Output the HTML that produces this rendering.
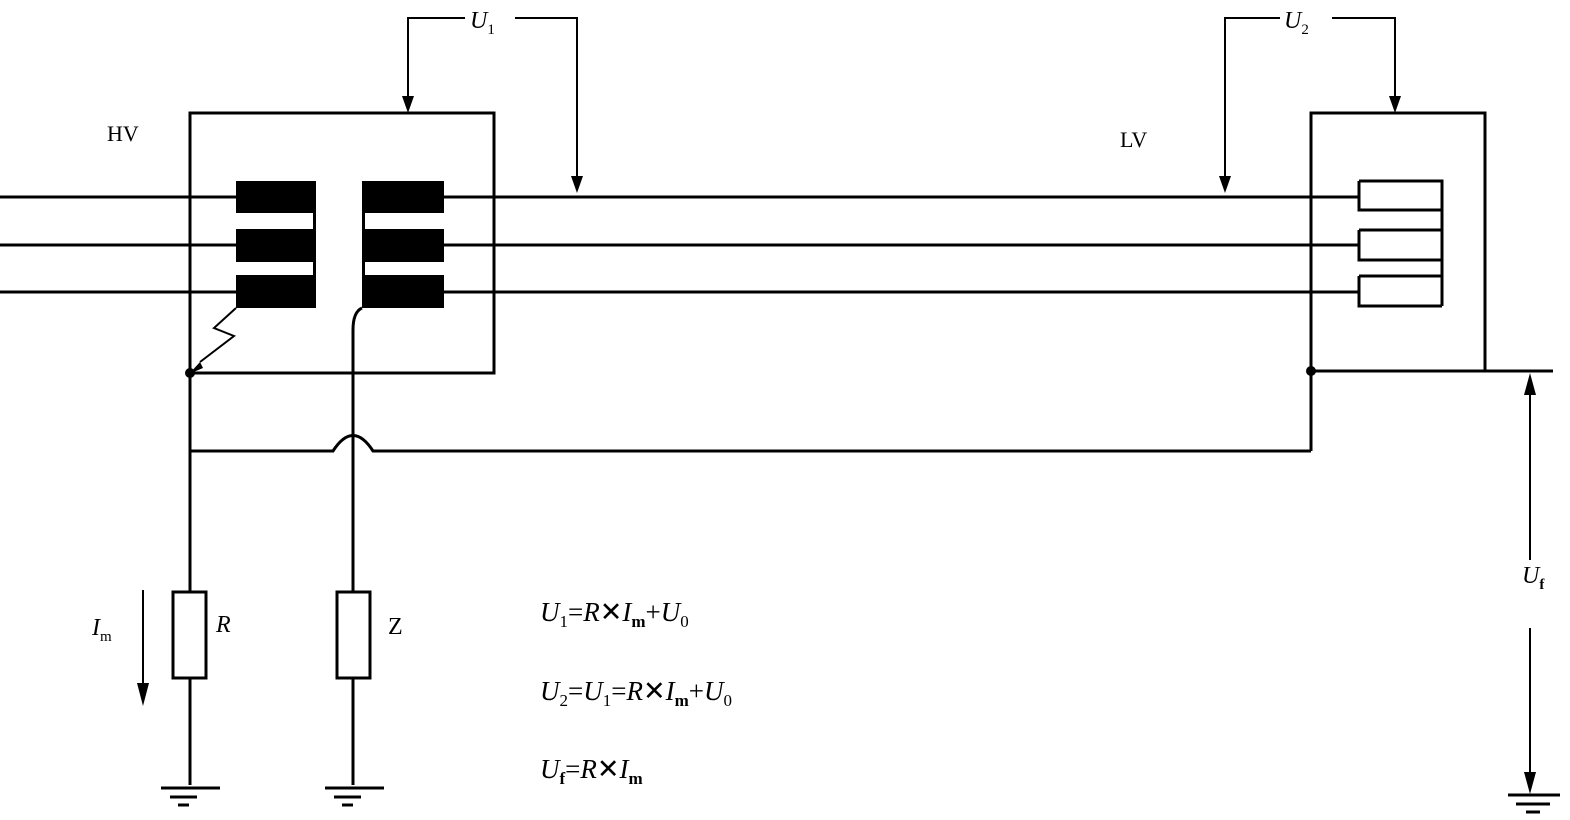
<!DOCTYPE html>
<html><head><style>body{margin:0;background:#fff}svg{display:block}text{font-family:"Liberation Serif",serif;fill:#000}</style></head><body>
<svg width="1570" height="820" viewBox="0 0 1570 820" xmlns="http://www.w3.org/2000/svg">
<g stroke="#000" stroke-width="3" fill="none">
<rect x="190" y="113" width="304" height="260"/>
<path d="M1311 451 V113 H1485 V371"/>
<path d="M1311 371 H1553"/>
<path d="M0 197 H236 M0 245 H236 M0 292 H236"/>
<path d="M444 197 H1359 M444 245 H1359 M444 292 H1359"/>
<path d="M1359 181 H1442 V306 M1359 181 V210 H1442 M1359 230 H1442 M1359 230 V260 H1442 M1359 276 H1442 M1359 276 V306 H1442"/>
<path d="M190 373 V785 M190 451 H333 Q353 420 373 451 H1311"/>
<path d="M362 308 Q353 312 353 330 V785"/>
<path d="M236 308 L214 328 L234 336 L200 362" stroke-width="2"/>
<rect x="173" y="592" width="33" height="86" fill="#fff"/>
<rect x="337" y="592" width="33" height="86" fill="#fff"/>
<path d="M161 788 H220 M170 797 H197 M178 805 H189"/>
<path d="M325 788 H384 M334 797 H361 M342 805 H353"/>
<path d="M1508 795 H1560 M1516 804 H1550 M1526 812 H1540"/>
<path d="M465 18 H408 V98 M515 18 H577 V178" stroke-width="2"/>
<path d="M1280 18 H1225 V178 M1332 18 H1395 V98" stroke-width="2"/>
<path d="M143 590 V690" stroke-width="2"/>
<path d="M1530 390 V560 M1530 628 V780" stroke-width="2"/>
</g>
<g fill="#000">
<rect x="236" y="181" width="80" height="32"/><rect x="236" y="229" width="80" height="33"/><rect x="236" y="275" width="80" height="33"/>
<rect x="362" y="181" width="82" height="32"/><rect x="362" y="229" width="82" height="33"/><rect x="362" y="275" width="82" height="33"/>
<rect x="313" y="205" width="3" height="30"/><rect x="313" y="255" width="3" height="25"/>
<rect x="362" y="205" width="3" height="30"/><rect x="362" y="255" width="3" height="25"/>
<circle cx="190" cy="373" r="5"/><circle cx="1311" cy="371" r="5"/>
<path d="M402 96 L414 96 L408 113 Z"/><path d="M571 176 L583 176 L577 193 Z"/>
<path d="M1219 176 L1231 176 L1225 193 Z"/><path d="M1389 96 L1401 96 L1395 113 Z"/>
<path d="M137 683 L149 683 L143 706 Z"/>
<path d="M1524 395 L1536 395 L1530 373 Z"/><path d="M1524 772 L1536 772 L1530 794 Z"/>
<path d="M189 374 L200 362 L203 368 Z"/>
</g>
<text x="107" y="141" font-size="22">HV</text>
<text x="1120" y="147" font-size="22">LV</text>
<text x="470" y="28" font-size="24" font-style="italic">U<tspan font-size="15" dy="6" font-style="normal">1</tspan></text>
<text x="1284" y="28" font-size="24" font-style="italic">U<tspan font-size="15" dy="6" font-style="normal">2</tspan></text>
<text x="1522" y="583" font-size="24" font-style="italic">U<tspan font-size="15" dy="6" font-style="normal" font-weight="bold">f</tspan></text>
<text x="92" y="635" font-size="24" font-style="italic">I<tspan font-size="15" dy="6" font-style="normal">m</tspan></text>
<text x="216" y="632" font-size="24" font-style="italic">R</text>
<text x="388" y="634" font-size="24">Z</text>
<text x="540" y="621" font-size="27"><tspan font-style="italic">U</tspan><tspan font-size="17" dy="6">1</tspan><tspan dy="-6">=</tspan><tspan font-style="italic">R</tspan>✕<tspan font-style="italic">I</tspan><tspan font-size="17" dy="6" font-weight="bold">m</tspan><tspan dy="-6">+</tspan><tspan font-style="italic">U</tspan><tspan font-size="17" dy="6">0</tspan></text>
<text x="540" y="700" font-size="27"><tspan font-style="italic">U</tspan><tspan font-size="17" dy="6">2</tspan><tspan dy="-6">=</tspan><tspan font-style="italic">U</tspan><tspan font-size="17" dy="6">1</tspan><tspan dy="-6">=</tspan><tspan font-style="italic">R</tspan>✕<tspan font-style="italic">I</tspan><tspan font-size="17" dy="6" font-weight="bold">m</tspan><tspan dy="-6">+</tspan><tspan font-style="italic">U</tspan><tspan font-size="17" dy="6">0</tspan></text>
<text x="540" y="778" font-size="27"><tspan font-style="italic">U</tspan><tspan font-size="17" dy="6" font-weight="bold">f</tspan><tspan dy="-6">=</tspan><tspan font-style="italic">R</tspan>✕<tspan font-style="italic">I</tspan><tspan font-size="17" dy="6" font-weight="bold">m</tspan></text>
</svg>
</body></html>
